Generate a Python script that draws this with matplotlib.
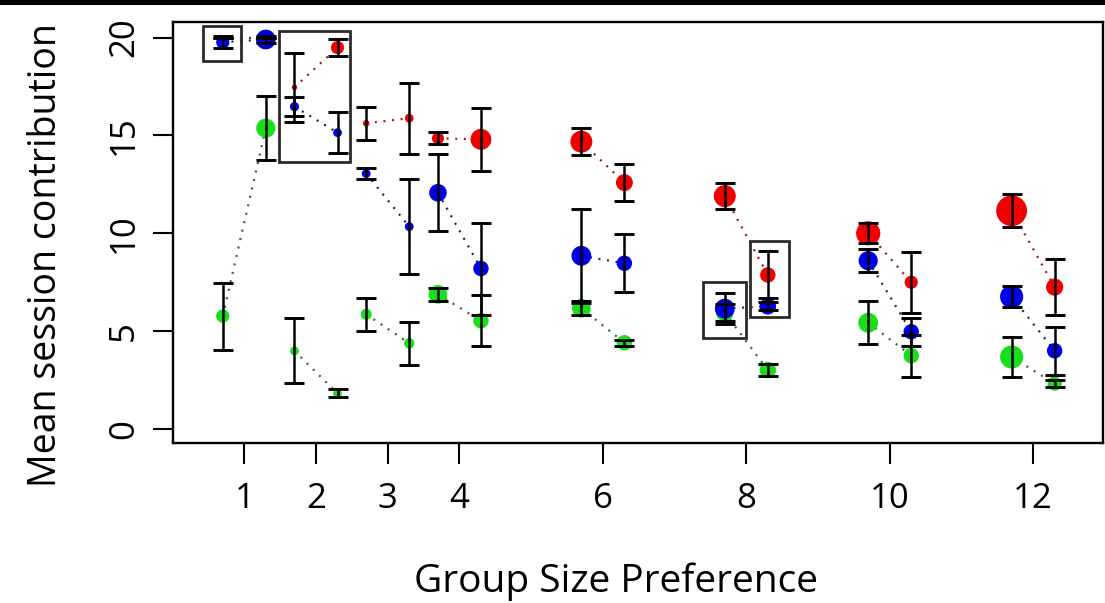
import matplotlib
matplotlib.use("Agg")
import matplotlib.pyplot as plt
from matplotlib.patches import Rectangle
import numpy as np

# ---------------- data ----------------
groups = [1, 2, 3, 4, 6, 8, 10, 12]
tick_labels = ["1", "2", "3", "4", "6", "8", "10", "12"]
yticks = [0, 5, 10, 15, 20]

# values at left sub-position (g - 0.3) and right sub-position (g + 0.3)
red_left = [20.0, 17.46, 15.62, 14.85, 14.68, 11.90, 10.00, 11.15]
red_left_err = [0.0, 1.75, 0.85, 0.30, 0.70, 0.65, 0.50, 0.85]
red_right = [20.0, 19.49, 15.88, 14.80, 12.59, 7.87, 7.50, 7.25]
red_right_err = [0.0, 0.44, 1.82, 1.60, 0.94, 1.20, 1.55, 1.43]

blue_left = [19.76, 16.47, 13.05, 12.07, 8.85, 6.15, 8.60, 6.76]
blue_left_err = [0.30, 0.48, 0.30, 1.97, 2.40, 0.80, 0.60, 0.55]
blue_right = [19.90, 15.14, 10.34, 8.20, 8.47, 6.27, 4.97, 4.00]
blue_right_err = [0.20, 1.05, 2.42, 2.35, 1.48, 0.20, 0.72, 1.22]

green_left = [5.77, 3.99, 5.86, 6.88, 6.17, 5.95, 5.43, 3.68]
green_left_err = [1.71, 1.66, 0.85, 0.33, 0.35, 0.45, 1.10, 1.00]
green_right = [15.37, 1.82, 4.38, 5.53, 4.41, 3.01, 3.75, 2.32]
green_right_err = [1.65, 0.20, 1.09, 1.30, 0.15, 0.30, 1.07, 0.19]

# relative point sizes (marker radius, px)
red_left_n = [2, 2.5, 3, 5.5, 10, 10, 11, 14]
red_right_n = [2, 6, 4, 9.5, 7.7, 7, 6, 7.8]
blue_left_n = [6, 4.2, 4, 8, 9, 9, 8.7, 10.5]
blue_right_n = [9, 4, 4, 7, 7, 7.5, 7, 7]
green_left_n = [6, 4, 5, 8.5, 8.5, 8, 9, 10.5]
green_right_n = [8.7, 4, 4.7, 7, 7, 7.5, 7, 6.5]

# highlight boxes (x0, x1, y0, y1) in data units
highlight_boxes = [
    (0.43, 0.96, 18.80, 20.59),
    (1.49, 2.47, 13.63, 20.34),
    (7.39, 8.00, 4.67, 7.53),
    (8.05, 8.59, 5.71, 9.62),
]

# ---------------- style ----------------
plt.rcParams['font.family'] = ['Open Sans', 'DejaVu Sans']
W, H = 1105, 603
fig = plt.figure(figsize=(W / 100, H / 100), dpi=100)
fig.patch.set_facecolor('white')

L, R, T, B = 173.3, 1102.7, 21.7, 443.3
ax = fig.add_axes([L / W, 1 - B / H, (R - L) / W, (B - T) / H])

offset = 0.3
gx = np.array(groups, dtype=float)
xl = gx - offset
xr = gx + offset

series = [
    ("red", red_left, red_left_err, red_right, red_right_err, red_left_n, red_right_n, '#F00000', '#9B1B1B', 2.0),
    ("green", green_left, green_left_err, green_right, green_right_err, green_left_n, green_right_n, '#18E018', '#2E6B2E', 2.1),
    ("blue", blue_left, blue_left_err, blue_right, blue_right_err, blue_left_n, blue_right_n, '#0000E6', '#23235E', 2.2),
]

def s_from_r(r):
    return (1.44 * 1.1 * np.asarray(r, dtype=float)) ** 2

for name, yl, el, yr, er, nl, nr, pc, lc, z in series:
    for i in range(len(groups)):
        ax.plot([xl[i], xr[i]], [yl[i], yr[i]], linestyle=(0, (0.9, 3.0)),
                color=lc, lw=1.6, zorder=1)
    ax.scatter(xl, yl, s=s_from_r(nl), color=pc, linewidths=0, zorder=z)
    ax.scatter(xr, yr, s=s_from_r(nr), color=pc, linewidths=0, zorder=z)

for name, yl, el, yr, er, nl, nr, pc, lc, z in series:
    ax.errorbar(xl, yl, yerr=el, fmt='none', ecolor='black', elinewidth=1.8,
                capsize=7.2, capthick=2.1, zorder=3)
    ax.errorbar(xr, yr, yerr=er, fmt='none', ecolor='black', elinewidth=1.8,
                capsize=7.2, capthick=2.1, zorder=3)

for (x0, x1, y0, y1) in highlight_boxes:
    ax.add_patch(Rectangle((x0, y0), x1 - x0, y1 - y0, fill=False,
                           edgecolor='#2b2b2b', lw=2.0, zorder=4))

ax.set_xlim(0.01, 12.97)
ax.set_ylim(-0.73, 20.81)
ax.set_xticks(groups)
ax.set_xticklabels(tick_labels)
ax.set_yticks(yticks)
ax.set_yticklabels([str(v) for v in yticks])

for sp in ax.spines.values():
    sp.set_linewidth(1.7)
    sp.set_color('black')

ax.tick_params(axis='x', length=15, width=1.5, pad=13, labelsize=25, direction='out')
ax.tick_params(axis='y', length=14.4, width=1.5, pad=9, labelsize=25, direction='out')
for lab in ax.get_yticklabels():
    lab.set_rotation(90)
    lab.set_va('center')
    lab.set_ha('right')

ax.set_xlabel("Group Size Preference", fontsize=28, va='center')
ax.xaxis.set_label_coords((616.5 - L) / (R - L), (B - 582) / (B - T))
ax.set_ylabel("Mean session contribution", fontsize=27, va='center')
ax.yaxis.set_label_coords((46 - L) / (R - L), (B - 255) / (B - T))

# black band at the top
fig.add_artist(Rectangle((0, 1 - 5 / H), 1, 5 / H, transform=fig.transFigure,
                         facecolor='black', edgecolor='none'))

fig.savefig("out.png", dpi=100, facecolor='white')
